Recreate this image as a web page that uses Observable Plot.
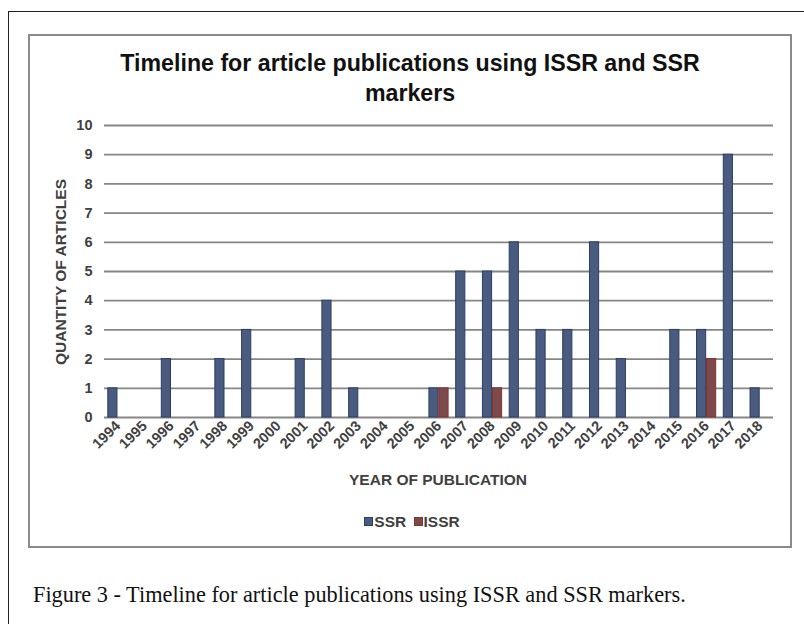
<!DOCTYPE html>
<html>
<head>
<meta charset="utf-8">
<script src="https://cdn.jsdelivr.net/npm/d3@7"></script>
<script src="https://cdn.jsdelivr.net/npm/@observablehq/plot@0.6"></script>
<style>
  html, body { margin: 0; padding: 0; background: #fff; }
  #page { position: relative; width: 804px; height: 624px; overflow: hidden; background: #fff; }
  #outer { position: absolute; left: 8px; top: 11px; width: 900px; height: 700px; border: 1.5px solid #222; }
  #inner { position: absolute; left: 28px; top: 34px; width: 760px; height: 510px; border: 2px solid #8a8a8a; }
  #title { position: absolute; left: 28px; width: 764px; top: 48px; text-align: center; font-family: "Liberation Sans", Arial, sans-serif; font-weight: bold; font-size: 23.2px; line-height: 30px; color: #111; }
  #chart { position: absolute; left: 28px; top: 110px; }
  .lab { position: absolute; font-family: "Liberation Sans", Arial, sans-serif; font-weight: bold; font-size: 15.5px; color: #404040; white-space: nowrap; }
  #ylab { left: 61px; top: 272px; transform: translate(-50%, -50%) rotate(-90deg); }
  #xlab { left: 438px; top: 480px; transform: translate(-50%, -50%); }
  #legend { position: absolute; left: 0; width: 824px; top: 513px; text-align: center; font-family: "Liberation Sans", Arial, sans-serif; font-weight: bold; font-size: 15.5px; color: #404040; }
  .sw { display: inline-block; width: 7px; height: 7px; margin-right: 1px; vertical-align: 1px; }
  #caption { position: absolute; left: 33px; top: 584px; line-height: 22px; font-family: "Liberation Serif", "Times New Roman", serif; font-size: 22.3px; color: #111; white-space: nowrap; }
</style>
</head>
<body>
<div id="page">
  <div id="outer"></div>
  <div id="inner"></div>
  <div id="title">Timeline for article publications using ISSR and SSR<br>markers</div>
  <div id="chart"></div>
  <div class="lab" id="ylab">QUANTITY OF ARTICLES</div>
  <div class="lab" id="xlab">YEAR OF PUBLICATION</div>
  <div id="legend"><span class="sw" style="background:#4a5b80;border:1px solid #2c3e66"></span>SSR <span style="display:inline-block;width:3px"></span><span class="sw" style="background:#7b4a4a;border:1px solid #8b2f2f"></span>ISSR</div>
  <div id="caption">Figure 3 - Timeline for article publications using ISSR and SSR markers.</div>
</div>
<script>
const years = ["1994","1995","1996","1997","1998","1999","2000","2001","2002","2003","2004","2005","2006","2007","2008","2009","2010","2011","2012","2013","2014","2015","2016","2017","2018"];
const ssr  = [1,0,2,0,2,3,0,2,4,1,0,0,1,5,5,6,3,3,6,2,0,3,3,9,1];
const issr = [0,0,0,0,0,0,0,0,0,0,0,0,1,0,1,0,0,0,0,0,0,0,2,0,0];
const yTicks = [0,1,2,3,4,5,6,7,8,9,10];

const ssrData = years.map((y, i) => ({year: y, value: ssr[i]})).filter(d => d.value > 0);
const issrData = years.map((y, i) => ({year: y, value: issr[i]})).filter(d => d.value > 0);

const chart = Plot.plot({
  width: 764,
  height: 360,
  marginLeft: 76,
  marginRight: 19,
  marginTop: 15,
  marginBottom: 53,
  style: {background: "transparent", overflow: "visible"},
  x: {domain: years, paddingInner: 0.62, paddingOuter: 0.31, round: false, axis: null},
  y: {domain: [0, 10], axis: null},
  marks: [
    Plot.ruleY(yTicks, {stroke: "#868686", strokeWidth: 1.8}),
    Plot.barY(ssrData, {x: "year", y: "value", fill: "#4a5b80", stroke: "#2c3e66", strokeWidth: 1, dx: -5, insetLeft: 0.5, insetRight: 0.5}),
    Plot.barY(issrData, {x: "year", y: "value", fill: "#7b4a4a", stroke: "#8b2f2f", strokeWidth: 1, dx: 5, insetLeft: 0.5, insetRight: 0.5}),
    Plot.axisY({ticks: yTicks, tickSize: 0, tickPadding: 12, fontSize: 14.5, fontWeight: "bold", fill: "#404040", label: null, fontFamily: "Liberation Sans, Arial, sans-serif"}),
    Plot.axisX({tickSize: 0, tickPadding: 6, tickRotate: -45, fontSize: 14.5, fontWeight: "bold", fill: "#404040", label: null, fontFamily: "Liberation Sans, Arial, sans-serif"})
  ]
});
document.getElementById("chart").appendChild(chart);
</script>
</body>
</html>
